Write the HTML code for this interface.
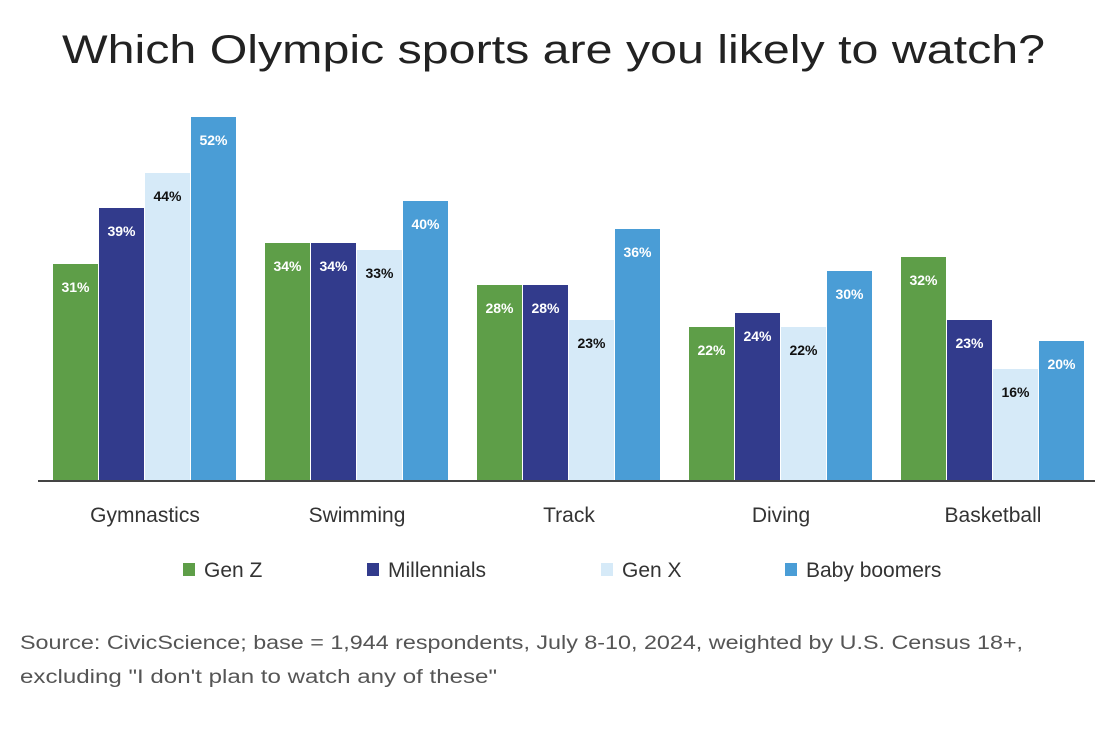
<!DOCTYPE html>
<html><head><meta charset="utf-8"><style>
body{margin:0;background:#fff;width:1110px;height:734px;overflow:hidden;font-family:"Liberation Sans",sans-serif}
</style></head><body>
<svg id="chart" width="1110" height="734" xmlns="http://www.w3.org/2000/svg">
<text x="62" y="63" font-size="40" fill="#222" textLength="983" lengthAdjust="spacingAndGlyphs">Which Olympic sports are you likely to watch?</text>
<g id="bars"></g>
<line x1="38" y1="481" x2="1095" y2="481" stroke="#444" stroke-width="2"/>
<g id="cats"></g>
<g id="legend"></g>
<text x="20" y="649" font-size="19" fill="#555" textLength="1003" lengthAdjust="spacingAndGlyphs">Source: CivicScience; base = 1,944 respondents, July 8-10, 2024, weighted by U.S. Census 18+,</text>
<text x="20" y="683" font-size="19" fill="#555" textLength="477" lengthAdjust="spacingAndGlyphs">excluding "I don't plan to watch any of these"</text>
</svg>
<script>
const categories=["Gymnastics","Swimming","Track","Diving","Basketball"];
const seriesNames=["Gen Z","Millennials","Gen X","Baby boomers"];
const genZ=[31,34,28,22,32];
const millennials=[39,34,28,24,23];
const genX=[44,33,23,22,16];
const boomers=[52,40,36,30,20];
const series=[genZ,millennials,genX,boomers];
const colors=["#5e9e48","#323b8c","#d6eaf8","#4a9dd6"];
const labelColors=["#fff","#fff","#111","#fff"];
const NS="http://www.w3.org/2000/svg";
const base=481,pxPer=7.0;
function yPos(v){return base-v*pxPer;}
function xPos(ci,si){return 53+ci*212+si*46;}
const bars=document.getElementById('bars');
categories.forEach((c,ci)=>{
 series.forEach((s,si)=>{
  const v=s[ci];
  const r=document.createElementNS(NS,'rect');
  
  
  r.setAttribute('x',xPos(ci,si));r.setAttribute('y',yPos(v));
  r.setAttribute('width',45);r.setAttribute('height',base-yPos(v));
  r.setAttribute('fill',colors[si]);bars.appendChild(r);
  const t=document.createElementNS(NS,'text');
  
  
  t.setAttribute('x',xPos(ci,si)+22.5);t.setAttribute('y',yPos(v)+28);
  t.setAttribute('text-anchor','middle');t.setAttribute('font-size','14');t.setAttribute('font-weight','bold');
  t.setAttribute('fill',labelColors[si]);t.textContent=v+'%';bars.appendChild(t);
 });
 const ct=document.createElementNS(NS,'text');
 
 
 ct.setAttribute('x',xPos(ci,0)+92);ct.setAttribute('y',522);
 ct.setAttribute('text-anchor','middle');ct.setAttribute('font-size','21');ct.setAttribute('fill','#333');
 ct.textContent=c;document.getElementById('cats').appendChild(ct);
});
const lx=[183,367,601,785];
const lg=document.getElementById('legend');
seriesNames.forEach((n,i)=>{
 const r=document.createElementNS(NS,'rect');
 
 
 r.setAttribute('x',lx[i]);r.setAttribute('y',563);r.setAttribute('width',12);r.setAttribute('height',13);
 r.setAttribute('fill',colors[i]);lg.appendChild(r);
 const t=document.createElementNS(NS,'text');
 
 
 t.setAttribute('x',lx[i]+21);t.setAttribute('y',577);t.setAttribute('font-size','21');t.setAttribute('fill','#333');
 t.textContent=n;lg.appendChild(t);
});
</script>
</body></html>
